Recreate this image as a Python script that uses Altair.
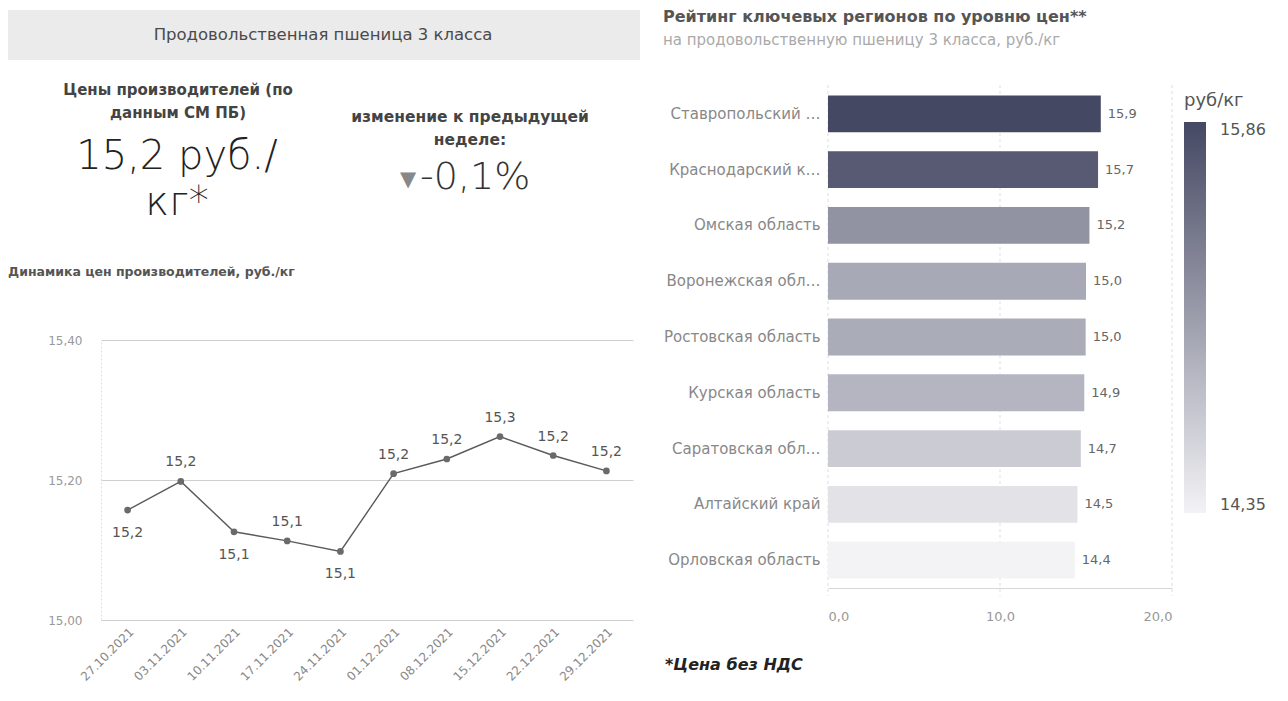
import altair as alt
import pandas as pd

# ---------------- data ----------------
dates = ["27.10.2021", "03.11.2021", "10.11.2021", "17.11.2021", "24.11.2021",
         "01.12.2021", "08.12.2021", "15.12.2021", "22.12.2021", "29.12.2021"]
prices = [15.157, 15.198, 15.126, 15.113, 15.098, 15.209, 15.230, 15.262, 15.235, 15.213]
label_below = [True, False, True, False, True, False, False, False, False, False]

y_ticks = [15.0, 15.2, 15.4]

regions = ["Ставропольский край", "Краснодарский край", "Омская область",
           "Воронежская область", "Ростовская область", "Курская область",
           "Саратовская область", "Алтайский край", "Орловская область"]
region_prices = [15.86, 15.70, 15.20, 15.00, 14.98, 14.90, 14.70, 14.50, 14.35]
x_ticks = [0, 10, 20]

kpi_price = "15,2 руб./"
kpi_change = "-0,1%"

FONT = "DejaVu Sans"


def comma(v, nd=1):
    return f"{v + 1e-9:.{nd}f}".replace(".", ",")


one = pd.DataFrame({"k": [0]})


def txt(text, x, y, **kw):
    style = dict(font=FONT, baseline="middle")
    style.update(kw)
    return alt.Chart(one).mark_text(text=text, **style).encode(
        x=alt.value(x), y=alt.value(y))


# ---------------- left: KPI + line ----------------
line_df = pd.DataFrame({
    "date": dates,
    "price": prices,
    "label": [comma(p) for p in prices],
    "below": label_below,
})

W_L, H_L = 532, 612          # plot area spans the whole left column height
Y_TOP, Y_BOT = 332, 612      # pixel band used by the price scale

x_enc = alt.X("date:O", sort=dates, scale=alt.Scale(padding=0.5),
              axis=alt.Axis(title=None, labelAngle=-45, ticks=False,
                            domain=False, labelColor="#888", labelFontSize=12,
                            labelPadding=6, labelFont=FONT))
y_enc = alt.Y("price:Q",
              scale=alt.Scale(domain=[15.0, 15.4], nice=False, zero=False,
                              range=[Y_BOT, Y_TOP]),
              axis=alt.Axis(title=None, values=y_ticks, ticks=False, grid=True,
                            gridColor="#cfcfcf", domain=True, domainColor="#dddddd",
                            domainDash=[2, 2],
                            labelExpr="replace(format(datum.value, '.2f'), '.', ',')",
                            labelColor="#999", labelFontSize=12, labelPadding=19,
                            labelFont=FONT))

base = alt.Chart(line_df).encode(x=x_enc, y=y_enc)
line = base.mark_line(color="#5a5a5a", strokeWidth=1.4)
pts = base.mark_point(filled=True, size=45, color="#6a6a6a", opacity=1)
lab_above = base.transform_filter("!datum.below").mark_text(
    dy=-19, fontSize=14, color="#555", font=FONT).encode(text="label:N")
lab_below = base.transform_filter("datum.below").mark_text(
    dy=23, fontSize=14, color="#555", font=FONT).encode(text="label:N")

band = alt.Chart(one).mark_rect(color="#ebebeb").encode(
    x=alt.value(-93), x2=alt.value(539), y=alt.value(2), y2=alt.value(52))

kpi = [
    band,
    txt("Продовольственная пшеница 3 класса", 222, 27, fontSize=16.5, color="#4a4a4a"),
    txt("Цены производителей (по", 77, 82, fontSize=15, fontWeight="bold", color="#444"),
    txt("данным СМ ПБ)", 77, 105, fontSize=15, fontWeight="bold", color="#444"),
    txt(kpi_price, 76, 149, fontSize=40, fontWeight=300, color="#222"),
    txt("кг*", 76, 195, fontSize=40, fontWeight=300, color="#222"),
    txt("изменение к предыдущей", 369, 109, fontSize=15.5, fontWeight="bold", color="#444"),
    txt("неделе:", 369, 132, fontSize=15.5, fontWeight="bold", color="#444"),
    txt("▼", 307, 172, fontSize=21, color="#888"),
    txt(kpi_change, 319, 170, fontSize=38, fontWeight=300, color="#333", align="left"),
    txt("Динамика цен производителей, руб./кг", -93, 264, fontSize=12.5,
        fontWeight="bold", color="#555", align="left"),
]

left = alt.layer(*kpi, line, pts, lab_above, lab_below).properties(width=W_L, height=H_L)

# ---------------- right: bar ranking ----------------
bar_df = pd.DataFrame({
    "region": regions,
    "price": region_prices,
    "label": [comma(p) for p in region_prices],
})
tick_df = pd.DataFrame({"t": x_ticks})

W_R, H_R = 344, 580
B_TOP, B_BOT = 78, 580

yb = alt.Y("region:N", sort=regions,
           scale=alt.Scale(paddingInner=0.34, paddingOuter=0.17, range=[B_TOP, B_BOT]),
           axis=alt.Axis(title=None, ticks=False, domain=False, labelLimit=157,
                         labelPadding=8, labelFontSize=15, labelColor="#888",
                         labelFont=FONT))
x_scale = alt.Scale(domain=[0, 20], nice=False)
xb = alt.X("price:Q", scale=x_scale,
           axis=alt.Axis(title=None, values=x_ticks, ticks=False, grid=False,
                         domain=True, domainColor="#d6d6d6",
                         labelExpr="replace(format(datum.value, '.1f'), '.', ',')",
                         labelColor="#999", labelFontSize=13, labelPadding=22,
                         labelFont=FONT))
cb = alt.Color("price:Q",
               scale=alt.Scale(domain=[14.35, 15.86], range=["#f3f3f6", "#454862"],
                               interpolate="rgb"),
               legend=alt.Legend(title="руб/кг", orient="none", legendX=356, legendY=84,
                                 direction="vertical", gradientLength=391,
                                 gradientThickness=22, values=[14.35, 15.86],
                                 labelExpr="replace(format(datum.value, '.2f'), '.', ',')",
                                 titleFontSize=18, titleFontWeight="normal",
                                 titleColor="#555", titleFont=FONT, titlePadding=12,
                                 labelFontSize=16, labelColor="#555", labelFont=FONT,
                                 labelOffset=14, gradientStrokeWidth=0))

grid = alt.Chart(tick_df).mark_rule(color="#dddddd", strokeDash=[3, 3]).encode(
    x=alt.X("t:Q", scale=x_scale), y=alt.value(B_TOP - 1), y2=alt.value(B_BOT + 8))

bb = alt.Chart(bar_df).encode(y=yb)
bars = bb.mark_bar().encode(x=xb, color=cb)
bar_lab = bb.mark_text(align="left", dx=7, fontSize=13, color="#666", font=FONT).encode(
    x="price:Q", text="label:N")

r_title = txt("Рейтинг ключевых регионов по уровню цен**", -165, 9, fontSize=16,
              fontWeight="bold", color="#555", align="left")
r_sub = txt("на продовольственную пшеницу 3 класса, руб./кг", -165, 32, fontSize=15,
            color="#aaa", align="left")
foot = txt("*Цена без НДС", -163, 657, fontSize=16, fontWeight="bold",
           fontStyle="italic", color="#222", align="left")

right = alt.layer(grid, bars, bar_lab, r_title, r_sub, foot).properties(
    width=W_R, height=H_R)

chart = alt.hconcat(left, right, spacing=23).resolve_scale(
    color="independent").properties(padding=0).configure(
    font=FONT).configure_view(strokeWidth=0)

chart.save("out.html", embed_options={"renderer": "svg", "actions": False})
